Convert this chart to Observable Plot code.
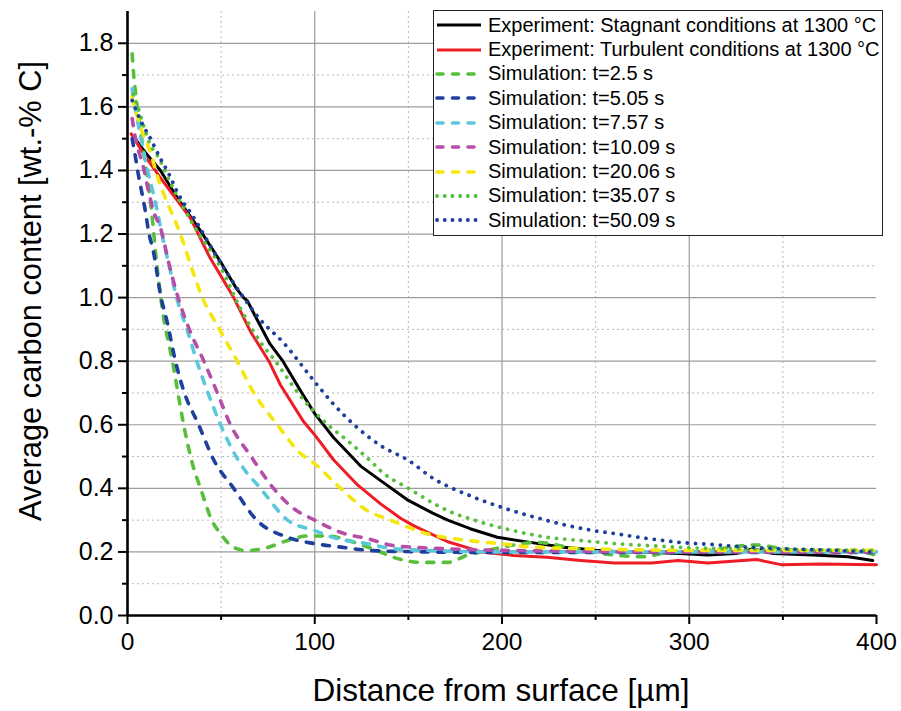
<!DOCTYPE html>
<html>
<head>
<meta charset="utf-8">
<script src="https://cdn.jsdelivr.net/npm/d3@7"></script>
<script src="https://cdn.jsdelivr.net/npm/@observablehq/plot@0.6"></script>
<style>
  body { margin: 0; background: #fff; }
  #wrap { position: relative; width: 901px; height: 711px; font-family: "Liberation Sans", Arial, sans-serif; }
  #legend { position: absolute; left: 433px; top: 10px; width: 448px; height: 222px; border: 1px solid #222; background: #fff; box-sizing: content-box; padding-top: 2px; }
  .row { display: flex; align-items: center; height: 24.4px; font-size: 20px; color: #000; white-space: nowrap; }
  .row svg { margin-left: 1px; margin-right: 5px; flex: none; }
</style>
</head>
<body>
<div id="wrap"></div>
<script>
// ---------- data ----------
const xMajorTicks = [0, 100, 200, 300, 400];
const xMinorTicks = [50, 150, 250, 350];
const yMajorTicks = [0, 0.2, 0.4, 0.6, 0.8, 1.0, 1.2, 1.4, 1.6, 1.8];
const yMinorTicks = [0.1, 0.3, 0.5, 0.7, 0.9, 1.1, 1.3, 1.5, 1.7];

const seriesLabels = [
  "Experiment: Stagnant conditions at 1300 °C",
  "Experiment: Turbulent conditions at 1300 °C",
  "Simulation: t=2.5 s",
  "Simulation: t=5.05 s",
  "Simulation: t=7.57 s",
  "Simulation: t=10.09 s",
  "Simulation: t=20.06 s",
  "Simulation: t=35.07 s",
  "Simulation: t=50.09 s"
];

const stagnantX = [4, 9.6, 17.6, 27, 39, 50, 58, 62, 64, 67.5, 76, 83, 92.4, 100, 110, 124.5, 135, 150, 163, 171, 183, 197.5, 215, 233, 250, 265, 280, 295, 310, 325, 334, 345, 366, 385, 398];
const stagnantY = [1.50, 1.456, 1.40, 1.31, 1.21, 1.11, 1.03, 1.0, 0.99, 0.95, 0.855, 0.80, 0.707, 0.635, 0.56, 0.47, 0.425, 0.362, 0.322, 0.30, 0.273, 0.246, 0.23, 0.215, 0.205, 0.20, 0.198, 0.195, 0.19, 0.195, 0.21, 0.195, 0.19, 0.185, 0.173];

const turbulentX = [2, 10, 17.6, 33.6, 44, 56.7, 66, 75.5, 81.7, 94, 100.4, 110, 123, 135, 146, 153, 171, 189, 206, 224, 242, 260, 280, 294, 310, 336, 349, 370, 400];
const turbulentY = [1.515, 1.44, 1.377, 1.25, 1.126, 1.0, 0.89, 0.80, 0.725, 0.61, 0.565, 0.49, 0.41, 0.352, 0.305, 0.282, 0.232, 0.2, 0.189, 0.183, 0.173, 0.165, 0.165, 0.173, 0.165, 0.176, 0.16, 0.162, 0.16];

const sim2_5X = [2.5, 3.3, 4.3, 7, 9.6, 13.4, 15, 18.7, 24, 30, 35, 39, 45, 50, 56.7, 64, 74.8, 85.5, 96, 107, 121, 133.5, 142, 158, 171, 181.6, 192, 210, 219, 235, 260, 275, 290, 310, 335, 350, 370, 385, 400];
const sim2_5Y = [1.767, 1.70, 1.645, 1.52, 1.42, 1.24, 1.14, 0.96, 0.80, 0.60, 0.47, 0.40, 0.30, 0.255, 0.214, 0.204, 0.214, 0.236, 0.25, 0.25, 0.23, 0.204, 0.183, 0.167, 0.167, 0.19, 0.204, 0.225, 0.23, 0.215, 0.19, 0.185, 0.20, 0.205, 0.222, 0.21, 0.20, 0.205, 0.19];

const sim5_05X = [2.5, 4.3, 6, 8, 9.6, 11.2, 14, 17.6, 21.4, 25.6, 30, 38, 46, 56.7, 69, 85.5, 100, 114, 131, 160, 200, 300, 400];
const sim5_05Y = [1.50, 1.44, 1.38, 1.32, 1.27, 1.21, 1.14, 1.01, 0.918, 0.80, 0.707, 0.60, 0.49, 0.40, 0.30, 0.246, 0.226, 0.215, 0.204, 0.20, 0.198, 0.198, 0.198];

const sim7_57X = [2.5, 5.3, 8, 10.7, 13.4, 16, 18, 22, 26.7, 32, 37, 43, 49.7, 60, 71, 85.5, 100, 110, 128, 142, 170, 200, 300, 400];
const sim7_57Y = [1.657, 1.557, 1.48, 1.40, 1.336, 1.27, 1.21, 1.107, 0.99, 0.896, 0.80, 0.70, 0.60, 0.48, 0.40, 0.30, 0.267, 0.245, 0.226, 0.21, 0.203, 0.20, 0.20, 0.20];

const sim10_09X = [2.5, 4.3, 8.5, 11.2, 14, 17.6, 22, 27, 33, 40.8, 48, 55, 66, 78, 88, 100, 115.6, 128, 142, 170, 200, 300, 400];
const sim10_09Y = [1.563, 1.50, 1.41, 1.336, 1.27, 1.22, 1.11, 1.0, 0.90, 0.80, 0.70, 0.60, 0.50, 0.40, 0.34, 0.30, 0.258, 0.242, 0.22, 0.21, 0.205, 0.20, 0.20];

const sim20_06X = [2.5, 7, 12.3, 16.6, 21.4, 25.6, 29.4, 34.7, 40, 48.6, 58.6, 67.5, 80, 92.4, 100, 113.8, 128, 140.5, 160, 181.6, 199, 217, 246, 300, 350, 400];
const sim20_06Y = [1.63, 1.535, 1.456, 1.37, 1.296, 1.24, 1.18, 1.085, 1.0, 0.906, 0.80, 0.70, 0.60, 0.51, 0.477, 0.40, 0.33, 0.30, 0.257, 0.236, 0.226, 0.215, 0.21, 0.205, 0.205, 0.205];

const sim35_07X = [3, 4.3, 12.3, 16.6, 23, 35, 49.7, 60.4, 71, 79, 92.4, 107, 117.5, 131.4, 135, 150, 171, 189, 206, 224, 242, 260, 278, 300, 350, 400];
const sim35_07Y = [1.64, 1.62, 1.48, 1.44, 1.36, 1.23, 1.096, 0.965, 0.86, 0.80, 0.69, 0.60, 0.55, 0.477, 0.456, 0.40, 0.33, 0.293, 0.267, 0.246, 0.236, 0.226, 0.22, 0.213, 0.208, 0.205];

const sim50_09X = [2.5, 7, 12.3, 17.6, 22, 27, 34.7, 48, 62, 71, 83, 100, 110, 121, 135, 150, 163.6, 181.6, 200, 217, 235, 249, 260, 278, 295, 313, 331, 349, 366, 398];
const sim50_09Y = [1.62, 1.557, 1.50, 1.437, 1.39, 1.327, 1.258, 1.126, 1.0, 0.93, 0.86, 0.735, 0.665, 0.60, 0.535, 0.488, 0.43, 0.38, 0.34, 0.31, 0.283, 0.267, 0.258, 0.242, 0.23, 0.223, 0.215, 0.21, 0.207, 0.20];

const seriesX = [stagnantX, turbulentX, sim2_5X, sim5_05X, sim7_57X, sim10_09X, sim20_06X, sim35_07X, sim50_09X];
const seriesY = [stagnantY, turbulentY, sim2_5Y, sim5_05Y, sim7_57Y, sim10_09Y, sim20_06Y, sim35_07Y, sim50_09Y];

// ---------- styles ----------
const GREEN = "#57bf3b", BLUE = "#1f3f9c";
const seriesColors = ["#000000", "#ee1c25", GREEN, BLUE, "#5ac8da", "#b54da9", "#f4e70f", GREEN, BLUE];
const seriesKinds = ["solid", "solid", "dash", "dash", "dash", "dash", "dash", "dot", "dot"];
const kindStyle = {
  solid: {strokeWidth: 3, strokeDasharray: null, strokeLinecap: "round", curve: "linear"},
  dash: {strokeWidth: 3.6, strokeDasharray: "7,9.5", strokeLinecap: "round", curve: "monotone-x"},
  dot: {strokeWidth: 3.8, strokeDasharray: "0.1,8.2", strokeLinecap: "round", curve: "monotone-x"}
};

const tables = seriesX.map((xs, i) => xs.map((x, j) => ({x, y: seriesY[i][j]})));

const lineMarks = tables.map((t, i) => {
  const s = kindStyle[seriesKinds[i]];
  return Plot.line(t, {
    x: "x", y: "y", stroke: seriesColors[i],
    strokeWidth: s.strokeWidth, strokeDasharray: s.strokeDasharray,
    strokeLinecap: s.strokeLinecap, strokeLinejoin: "round", curve: s.curve
  });
});

const plot = Plot.plot({
  width: 901, height: 711,
  marginLeft: 127, marginRight: 25, marginTop: 11, marginBottom: 96,
  style: {fontFamily: "'Liberation Sans', Arial, sans-serif", color: "#000", background: "#fff", overflow: "visible"},
  x: {domain: [0, 400]},
  y: {domain: [0, 1.9]},
  marks: [
    Plot.gridX(xMinorTicks, {stroke: "#b8b8b8", strokeOpacity: 1, strokeWidth: 1, strokeDasharray: "2,3"}),
    Plot.gridY(yMinorTicks, {stroke: "#b8b8b8", strokeOpacity: 1, strokeWidth: 1, strokeDasharray: "2,3"}),
    Plot.gridX(xMajorTicks.filter(d => d > 0 && d < 400), {stroke: "#9c9c9c", strokeOpacity: 1, strokeWidth: 1.2}),
    Plot.gridY(yMajorTicks.filter(d => d > 0), {stroke: "#9c9c9c", strokeOpacity: 1, strokeWidth: 1.2}),
    ...lineMarks,
    Plot.axisY(yMajorTicks, {tickSize: 9, tickPadding: 5, tickFormat: d => d.toFixed(1), fontSize: 25, label: null, strokeWidth: 2}),
    Plot.axisY(yMinorTicks, {tickSize: 5, tickFormat: () => "", label: null, strokeWidth: 2}),
    Plot.axisX(xMajorTicks, {tickSize: 9, tickPadding: 8, tickFormat: d => String(d), fontSize: 24.5, label: null, strokeWidth: 2}),
    Plot.axisX(xMinorTicks, {tickSize: 5, tickFormat: () => "", label: null, strokeWidth: 2}),
    Plot.ruleX([0], {stroke: "#000", strokeWidth: 2.6}),
    Plot.ruleY([0], {stroke: "#000", strokeWidth: 2.6})
  ]
});

const svg = d3.select(plot);
svg.append("text")
  .attr("transform", "translate(41,291) rotate(-90)")
  .attr("text-anchor", "middle")
  .attr("font-size", 30.8)
  .attr("font-family", "'Liberation Sans', Arial, sans-serif")
  .attr("fill", "#000")
  .text("Average carbon content [wt.-% C]");
svg.append("text")
  .attr("x", 501).attr("y", 701)
  .attr("text-anchor", "middle")
  .attr("font-size", 31.5)
  .attr("font-family", "'Liberation Sans', Arial, sans-serif")
  .attr("fill", "#000")
  .text("Distance from surface [µm]");

const wrap = document.getElementById("wrap");
wrap.appendChild(plot);

// ---------- legend ----------
const legend = document.createElement("div");
legend.id = "legend";
seriesLabels.forEach((label, i) => {
  const s = kindStyle[seriesKinds[i]];
  const row = document.createElement("div");
  row.className = "row";
  const sw = d3.create("svg").attr("width", 48).attr("height", 10);
  sw.append("line").attr("x1", 2).attr("x2", 46).attr("y1", 5).attr("y2", 5)
    .attr("stroke", seriesColors[i]).attr("stroke-width", s.strokeWidth)
    .attr("stroke-linecap", seriesKinds[i] === "solid" ? "butt" : "round")
    .attr("stroke-dasharray", seriesKinds[i] === "dash" ? "6,9.5" : seriesKinds[i] === "dot" ? "0.1,7.6" : null);
  row.appendChild(sw.node());
  const span = document.createElement("span");
  span.textContent = label;
  row.appendChild(span);
  legend.appendChild(row);
});
wrap.appendChild(legend);
</script>
</body>
</html>
